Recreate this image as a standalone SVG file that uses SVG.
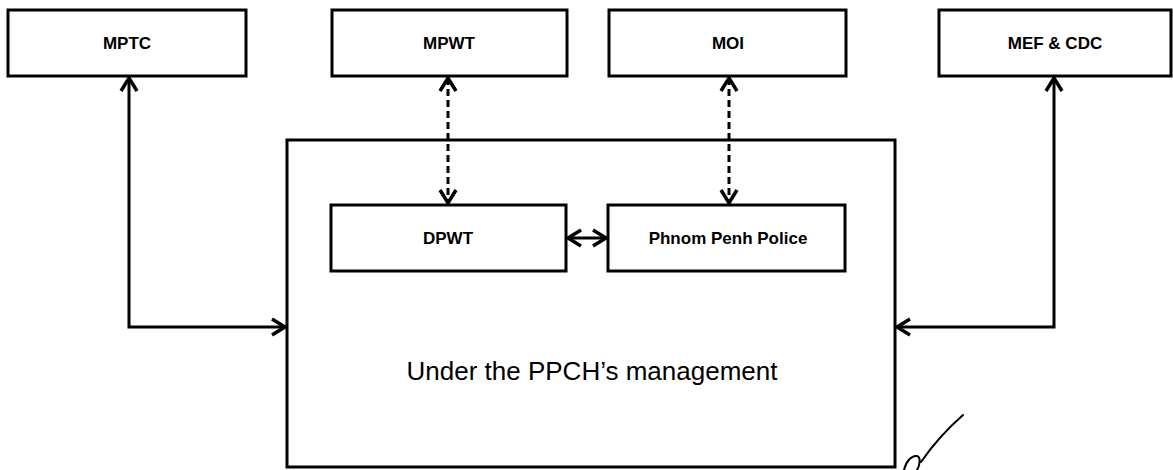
<svg xmlns="http://www.w3.org/2000/svg" width="1173" height="470" viewBox="0 0 1173 470">
  <defs>
    <style>
      .box { fill: #ffffff; stroke: #000000; stroke-width: 3; }
      .lbl { font-family: "Liberation Sans", Arial, sans-serif; font-size: 17px; font-weight: bold; fill: #000000; text-anchor: middle; }
      .big { font-family: "Liberation Sans", Arial, sans-serif; font-size: 26px; fill: #000000; text-anchor: middle; }
      .conn { fill: none; stroke: #000000; stroke-width: 3; marker-start: url(#arr); marker-end: url(#arr); }
      .dash { stroke-dasharray: 7 4; }
    </style>
    <marker id="arr" viewBox="-16 -10 20 20" refX="0" refY="0" markerWidth="20" markerHeight="20" markerUnits="userSpaceOnUse" orient="auto-start-reverse">
      <path d="M -13 -8 L 0 0 L -13 8" fill="none" stroke="#000000" stroke-width="3.5" stroke-linejoin="miter"/>
    </marker>
  </defs>
  <rect x="0" y="0" width="1173" height="470" fill="#ffffff"/>

  <g id="mptc">
    <rect class="box" x="8" y="10" width="238" height="66"/>
    <text class="lbl" x="127" y="49">MPTC</text>
  </g>
  <g id="mpwt">
    <rect class="box" x="332" y="10" width="235" height="66"/>
    <text class="lbl" x="449" y="49">MPWT</text>
  </g>
  <g id="moi">
    <rect class="box" x="609" y="10" width="237" height="66"/>
    <text class="lbl" x="728" y="49">MOI</text>
  </g>
  <g id="mef-cdc">
    <rect class="box" x="939" y="10" width="232" height="66"/>
    <text class="lbl" x="1055" y="49">MEF &amp; CDC</text>
  </g>

  <g id="ppch">
    <rect class="box" x="287" y="140" width="608" height="327"/>
    <text class="big" x="592" y="380">Under the PPCH’s management</text>
  </g>
  <g id="dpwt">
    <rect class="box" x="331" y="205" width="235" height="66"/>
    <text class="lbl" x="448" y="244">DPWT</text>
  </g>
  <g id="police">
    <rect class="box" x="608" y="205" width="237" height="66"/>
    <text class="lbl" x="728" y="244">Phnom Penh Police</text>
  </g>

  <g id="connectors">
    <path class="conn" d="M 129 78 V 327 H 285"/>
    <path class="conn" d="M 1054 78 V 327 H 897"/>
    <path class="conn dash" d="M 448 78 V 203"/>
    <path class="conn dash" d="M 729 78 V 203"/>
    <path class="conn" d="M 568 238 H 606"/>
  </g>

  <g id="checkmark">
    <path d="M 904 470 C 906 461, 912 455, 917 456 C 921 457, 920 465, 917 470 M 921 462 C 932 446, 946 430, 963 415" fill="none" stroke="#000000" stroke-width="2" stroke-linecap="round"/>
  </g>
</svg>
